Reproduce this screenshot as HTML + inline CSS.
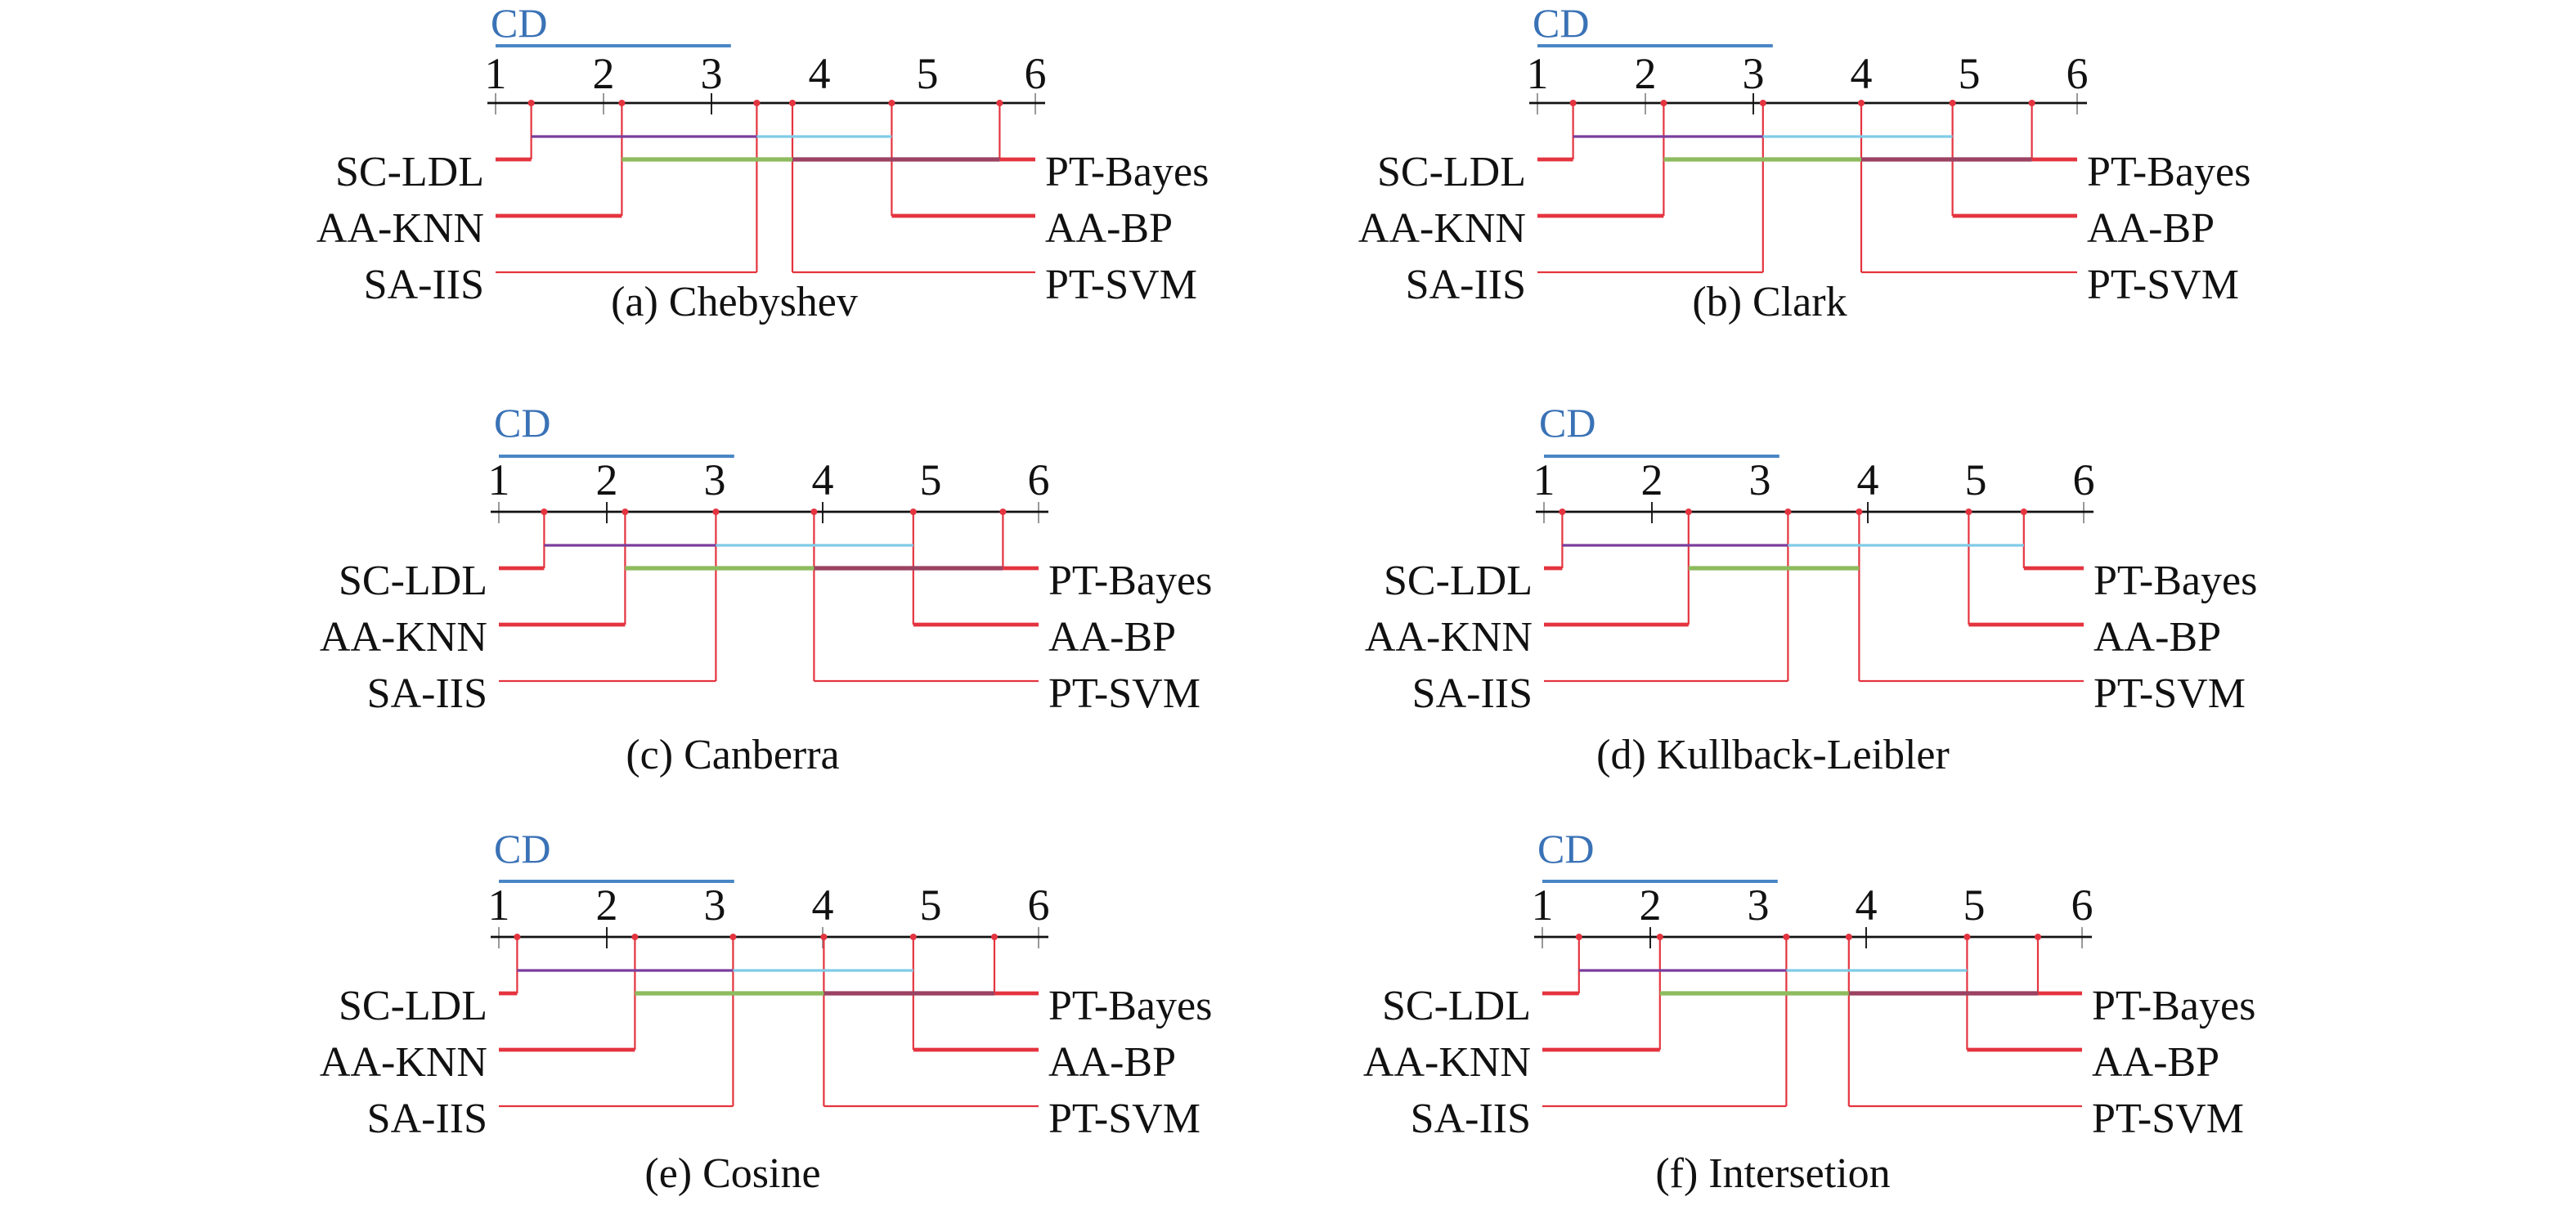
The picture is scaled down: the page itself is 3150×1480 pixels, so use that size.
<!DOCTYPE html>
<html><head><meta charset="utf-8"><style>
html,body{margin:0;padding:0;background:#fff;}
svg{display:block;}
text{font-family:"Liberation Serif",serif;fill:#111;}
.lb{font-size:26px;}
.tk{font-size:27px;text-anchor:middle;}
.cd{font-size:25px;fill:#3a72b6;}
.cap{font-size:26px;text-anchor:middle;}
.ax{stroke:#111;stroke-width:1.4;}
.gt{stroke:#999;stroke-width:1;}
.bt{stroke:#222;stroke-width:1;}
.cdb{stroke:#4a86c5;stroke-width:2;}
.r1{stroke:#e4343f;stroke-width:2.4;fill:none;}
.r3{stroke:#e4343f;stroke-width:1.1;fill:none;}
.v{stroke:#e4343f;stroke-width:1.1;}
.pu{stroke:#7b3d9c;stroke-width:1.6;}
.cy{stroke:#7fcbe6;stroke-width:1.6;}
.gr{stroke:#8dbb5e;stroke-width:2.6;}
.mr{stroke:#9b4262;stroke-width:2.6;}
circle{fill:#e4343f;}
</style></head><body>
<svg width="3150" height="1480" viewBox="0 0 1575 740" xmlns="http://www.w3.org/2000/svg">

<!-- (a) -->
<g transform="translate(303,63)">
<text class="cd" x="-3" y="-40.5">CD</text>
<line class="cdb" x1="0" y1="-35" x2="143.9" y2="-35"/>
<text class="tk" x="0" y="-9">1</text><text class="tk" x="66" y="-9">2</text><text class="tk" x="132" y="-9">3</text><text class="tk" x="198" y="-9">4</text><text class="tk" x="264" y="-9">5</text><text class="tk" x="330" y="-9">6</text>
<line class="gt" x1="0" y1="-6" x2="0" y2="7"/><line class="gt" x1="66" y1="-6" x2="66" y2="7"/><line class="bt" x1="132" y1="-6" x2="132" y2="7"/><line class="gt" x1="330" y1="-6" x2="330" y2="7"/>
<line class="ax" x1="-5" y1="0" x2="336" y2="0"/>
<line class="v" x1="21.8" y1="0" x2="21.8" y2="34.5"/><line class="v" x1="77.2" y1="0" x2="77.2" y2="69"/><line class="v" x1="159.7" y1="0" x2="159.7" y2="103.5"/><line class="v" x1="181.5" y1="0" x2="181.5" y2="103.5"/><line class="v" x1="242.2" y1="0" x2="242.2" y2="69"/><line class="v" x1="308.2" y1="0" x2="308.2" y2="34.5"/>
<line class="r1" x1="0" y1="34.5" x2="21.8" y2="34.5"/><line class="r1" x1="0" y1="69" x2="77.2" y2="69"/><line class="r3" x1="0" y1="103.5" x2="159.7" y2="103.5"/>
<line class="r3" x1="181.5" y1="103.5" x2="330" y2="103.5"/><line class="r1" x1="242.2" y1="69" x2="330" y2="69"/><line class="r1" x1="308.2" y1="34.5" x2="330" y2="34.5"/>
<line class="pu" x1="21.8" y1="20.5" x2="159.7" y2="20.5"/><line class="cy" x1="159.7" y1="20.5" x2="242.2" y2="20.5"/>
<line class="gr" x1="77.2" y1="34.5" x2="181.5" y2="34.5"/><line class="mr" x1="181.5" y1="34.5" x2="308.2" y2="34.5"/>
<circle cx="21.8" cy="0" r="2"/><circle cx="77.2" cy="0" r="2"/><circle cx="159.7" cy="0" r="2"/><circle cx="181.5" cy="0" r="2"/><circle cx="242.2" cy="0" r="2"/><circle cx="308.2" cy="0" r="2"/>
<text class="lb" x="-7" y="50.5" text-anchor="end">SC-LDL</text><text class="lb" x="-7" y="85" text-anchor="end">AA-KNN</text><text class="lb" x="-7" y="119.5" text-anchor="end">SA-IIS</text>
<text class="lb" x="336" y="50.5">PT-Bayes</text><text class="lb" x="336" y="85">AA-BP</text><text class="lb" x="336" y="119.5">PT-SVM</text>
<text class="cap" x="146" y="130">(a) Chebyshev</text>
</g>

<!-- (b) -->
<g transform="translate(940,63)">
<text class="cd" x="-3" y="-40.5">CD</text>
<line class="cdb" x1="0" y1="-35" x2="143.9" y2="-35"/>
<text class="tk" x="0" y="-9">1</text><text class="tk" x="66" y="-9">2</text><text class="tk" x="132" y="-9">3</text><text class="tk" x="198" y="-9">4</text><text class="tk" x="264" y="-9">5</text><text class="tk" x="330" y="-9">6</text>
<line class="gt" x1="0" y1="-6" x2="0" y2="7"/><line class="gt" x1="66" y1="-6" x2="66" y2="7"/><line class="bt" x1="132" y1="-6" x2="132" y2="7"/><line class="gt" x1="330" y1="-6" x2="330" y2="7"/>
<line class="ax" x1="-5" y1="0" x2="336" y2="0"/>
<line class="v" x1="21.8" y1="0" x2="21.8" y2="34.5"/><line class="v" x1="77.2" y1="0" x2="77.2" y2="69"/><line class="v" x1="137.9" y1="0" x2="137.9" y2="103.5"/><line class="v" x1="198" y1="0" x2="198" y2="103.5"/><line class="v" x1="253.8" y1="0" x2="253.8" y2="69"/><line class="v" x1="302.3" y1="0" x2="302.3" y2="34.5"/>
<line class="r1" x1="0" y1="34.5" x2="21.8" y2="34.5"/><line class="r1" x1="0" y1="69" x2="77.2" y2="69"/><line class="r3" x1="0" y1="103.5" x2="137.9" y2="103.5"/>
<line class="r3" x1="198" y1="103.5" x2="330" y2="103.5"/><line class="r1" x1="253.8" y1="69" x2="330" y2="69"/><line class="r1" x1="302.3" y1="34.5" x2="330" y2="34.5"/>
<line class="pu" x1="21.8" y1="20.5" x2="137.9" y2="20.5"/><line class="cy" x1="137.9" y1="20.5" x2="253.8" y2="20.5"/>
<line class="gr" x1="77.2" y1="34.5" x2="198" y2="34.5"/><line class="mr" x1="198" y1="34.5" x2="302.3" y2="34.5"/>
<circle cx="21.8" cy="0" r="2"/><circle cx="77.2" cy="0" r="2"/><circle cx="137.9" cy="0" r="2"/><circle cx="198" cy="0" r="2"/><circle cx="253.8" cy="0" r="2"/><circle cx="302.3" cy="0" r="2"/>
<text class="lb" x="-7" y="50.5" text-anchor="end">SC-LDL</text><text class="lb" x="-7" y="85" text-anchor="end">AA-KNN</text><text class="lb" x="-7" y="119.5" text-anchor="end">SA-IIS</text>
<text class="lb" x="336" y="50.5">PT-Bayes</text><text class="lb" x="336" y="85">AA-BP</text><text class="lb" x="336" y="119.5">PT-SVM</text>
<text class="cap" x="142" y="130">(b) Clark</text>
</g>

<!-- (c) -->
<g transform="translate(305,313)">
<text class="cd" x="-3" y="-46">CD</text>
<line class="cdb" x1="0" y1="-34" x2="143.9" y2="-34"/>
<text class="tk" x="0" y="-10.5">1</text><text class="tk" x="66" y="-10.5">2</text><text class="tk" x="132" y="-10.5">3</text><text class="tk" x="198" y="-10.5">4</text><text class="tk" x="264" y="-10.5">5</text><text class="tk" x="330" y="-10.5">6</text>
<line class="gt" x1="0" y1="-6" x2="0" y2="7"/><line class="bt" x1="66" y1="-6" x2="66" y2="7"/><line class="bt" x1="198" y1="-6" x2="198" y2="7"/><line class="gt" x1="330" y1="-6" x2="330" y2="7"/>
<line class="ax" x1="-5" y1="0" x2="336" y2="0"/>
<line class="v" x1="27.7" y1="0" x2="27.7" y2="34.5"/><line class="v" x1="77.2" y1="0" x2="77.2" y2="69"/><line class="v" x1="132.7" y1="0" x2="132.7" y2="103.5"/><line class="v" x1="192.7" y1="0" x2="192.7" y2="103.5"/><line class="v" x1="253.4" y1="0" x2="253.4" y2="69"/><line class="v" x1="308.2" y1="0" x2="308.2" y2="34.5"/>
<line class="r1" x1="0" y1="34.5" x2="27.7" y2="34.5"/><line class="r1" x1="0" y1="69" x2="77.2" y2="69"/><line class="r3" x1="0" y1="103.5" x2="132.7" y2="103.5"/>
<line class="r3" x1="192.7" y1="103.5" x2="330" y2="103.5"/><line class="r1" x1="253.4" y1="69" x2="330" y2="69"/><line class="r1" x1="308.2" y1="34.5" x2="330" y2="34.5"/>
<line class="pu" x1="27.7" y1="20.5" x2="132.7" y2="20.5"/><line class="cy" x1="132.7" y1="20.5" x2="253.4" y2="20.5"/>
<line class="gr" x1="77.2" y1="34.5" x2="192.7" y2="34.5"/><line class="mr" x1="192.7" y1="34.5" x2="308.2" y2="34.5"/>
<circle cx="27.7" cy="0" r="2"/><circle cx="77.2" cy="0" r="2"/><circle cx="132.7" cy="0" r="2"/><circle cx="192.7" cy="0" r="2"/><circle cx="253.4" cy="0" r="2"/><circle cx="308.2" cy="0" r="2"/>
<text class="lb" x="-7" y="50.5" text-anchor="end">SC-LDL</text><text class="lb" x="-7" y="85" text-anchor="end">AA-KNN</text><text class="lb" x="-7" y="119.5" text-anchor="end">SA-IIS</text>
<text class="lb" x="336" y="50.5">PT-Bayes</text><text class="lb" x="336" y="85">AA-BP</text><text class="lb" x="336" y="119.5">PT-SVM</text>
<text class="cap" x="143" y="157">(c) Canberra</text>
</g>

<!-- (d) -->
<g transform="translate(944,313)">
<text class="cd" x="-3" y="-46">CD</text>
<line class="cdb" x1="0" y1="-34" x2="143.9" y2="-34"/>
<text class="tk" x="0" y="-10.5">1</text><text class="tk" x="66" y="-10.5">2</text><text class="tk" x="132" y="-10.5">3</text><text class="tk" x="198" y="-10.5">4</text><text class="tk" x="264" y="-10.5">5</text><text class="tk" x="330" y="-10.5">6</text>
<line class="gt" x1="0" y1="-6" x2="0" y2="7"/><line class="bt" x1="66" y1="-6" x2="66" y2="7"/><line class="bt" x1="198" y1="-6" x2="198" y2="7"/><line class="gt" x1="330" y1="-6" x2="330" y2="7"/>
<line class="ax" x1="-5" y1="0" x2="336" y2="0"/>
<line class="v" x1="11.2" y1="0" x2="11.2" y2="34.5"/><line class="v" x1="88.4" y1="0" x2="88.4" y2="69"/><line class="v" x1="149.2" y1="0" x2="149.2" y2="103.5"/><line class="v" x1="192.7" y1="0" x2="192.7" y2="103.5"/><line class="v" x1="259.7" y1="0" x2="259.7" y2="69"/><line class="v" x1="293.4" y1="0" x2="293.4" y2="34.5"/>
<line class="r1" x1="0" y1="34.5" x2="11.2" y2="34.5"/><line class="r1" x1="0" y1="69" x2="88.4" y2="69"/><line class="r3" x1="0" y1="103.5" x2="149.2" y2="103.5"/>
<line class="r3" x1="192.7" y1="103.5" x2="330" y2="103.5"/><line class="r1" x1="259.7" y1="69" x2="330" y2="69"/><line class="r1" x1="293.4" y1="34.5" x2="330" y2="34.5"/>
<line class="pu" x1="11.2" y1="20.5" x2="149.2" y2="20.5"/><line class="cy" x1="149.2" y1="20.5" x2="293.4" y2="20.5"/>
<line class="gr" x1="88.4" y1="34.5" x2="192.7" y2="34.5"/>
<circle cx="11.2" cy="0" r="2"/><circle cx="88.4" cy="0" r="2"/><circle cx="149.2" cy="0" r="2"/><circle cx="192.7" cy="0" r="2"/><circle cx="259.7" cy="0" r="2"/><circle cx="293.4" cy="0" r="2"/>
<text class="lb" x="-7" y="50.5" text-anchor="end">SC-LDL</text><text class="lb" x="-7" y="85" text-anchor="end">AA-KNN</text><text class="lb" x="-7" y="119.5" text-anchor="end">SA-IIS</text>
<text class="lb" x="336" y="50.5">PT-Bayes</text><text class="lb" x="336" y="85">AA-BP</text><text class="lb" x="336" y="119.5">PT-SVM</text>
<text class="cap" x="140" y="157">(d) Kullback-Leibler</text>
</g>

<!-- (e) -->
<g transform="translate(305,573)">
<text class="cd" x="-3" y="-45.5">CD</text>
<line class="cdb" x1="0" y1="-34" x2="143.9" y2="-34"/>
<text class="tk" x="0" y="-10.5">1</text><text class="tk" x="66" y="-10.5">2</text><text class="tk" x="132" y="-10.5">3</text><text class="tk" x="198" y="-10.5">4</text><text class="tk" x="264" y="-10.5">5</text><text class="tk" x="330" y="-10.5">6</text>
<line class="gt" x1="0" y1="-6" x2="0" y2="7"/><line class="bt" x1="66" y1="-6" x2="66" y2="7"/><line class="gt" x1="198" y1="-6" x2="198" y2="7"/><line class="gt" x1="330" y1="-6" x2="330" y2="7"/>
<line class="ax" x1="-5" y1="0" x2="336" y2="0"/>
<line class="v" x1="11.2" y1="0" x2="11.2" y2="34.5"/><line class="v" x1="83.2" y1="0" x2="83.2" y2="69"/><line class="v" x1="143.2" y1="0" x2="143.2" y2="103.5"/><line class="v" x1="198.7" y1="0" x2="198.7" y2="103.5"/><line class="v" x1="253.4" y1="0" x2="253.4" y2="69"/><line class="v" x1="303" y1="0" x2="303" y2="34.5"/>
<line class="r1" x1="0" y1="34.5" x2="11.2" y2="34.5"/><line class="r1" x1="0" y1="69" x2="83.2" y2="69"/><line class="r3" x1="0" y1="103.5" x2="143.2" y2="103.5"/>
<line class="r3" x1="198.7" y1="103.5" x2="330" y2="103.5"/><line class="r1" x1="253.4" y1="69" x2="330" y2="69"/><line class="r1" x1="303" y1="34.5" x2="330" y2="34.5"/>
<line class="pu" x1="11.2" y1="20.5" x2="143.2" y2="20.5"/><line class="cy" x1="143.2" y1="20.5" x2="253.4" y2="20.5"/>
<line class="gr" x1="83.2" y1="34.5" x2="198.7" y2="34.5"/><line class="mr" x1="198.7" y1="34.5" x2="303" y2="34.5"/>
<circle cx="11.2" cy="0" r="2"/><circle cx="83.2" cy="0" r="2"/><circle cx="143.2" cy="0" r="2"/><circle cx="198.7" cy="0" r="2"/><circle cx="253.4" cy="0" r="2"/><circle cx="303" cy="0" r="2"/>
<text class="lb" x="-7" y="50.5" text-anchor="end">SC-LDL</text><text class="lb" x="-7" y="85" text-anchor="end">AA-KNN</text><text class="lb" x="-7" y="119.5" text-anchor="end">SA-IIS</text>
<text class="lb" x="336" y="50.5">PT-Bayes</text><text class="lb" x="336" y="85">AA-BP</text><text class="lb" x="336" y="119.5">PT-SVM</text>
<text class="cap" x="143" y="153">(e) Cosine</text>
</g>

<!-- (f) -->
<g transform="translate(943,573)">
<text class="cd" x="-3" y="-45.5">CD</text>
<line class="cdb" x1="0" y1="-34" x2="143.9" y2="-34"/>
<text class="tk" x="0" y="-10.5">1</text><text class="tk" x="66" y="-10.5">2</text><text class="tk" x="132" y="-10.5">3</text><text class="tk" x="198" y="-10.5">4</text><text class="tk" x="264" y="-10.5">5</text><text class="tk" x="330" y="-10.5">6</text>
<line class="gt" x1="0" y1="-6" x2="0" y2="7"/><line class="bt" x1="66" y1="-6" x2="66" y2="7"/><line class="bt" x1="198" y1="-6" x2="198" y2="7"/><line class="gt" x1="330" y1="-6" x2="330" y2="7"/>
<line class="ax" x1="-5" y1="0" x2="336" y2="0"/>
<line class="v" x1="22.4" y1="0" x2="22.4" y2="34.5"/><line class="v" x1="71.9" y1="0" x2="71.9" y2="69"/><line class="v" x1="149.2" y1="0" x2="149.2" y2="103.5"/><line class="v" x1="187.4" y1="0" x2="187.4" y2="103.5"/><line class="v" x1="259.7" y1="0" x2="259.7" y2="69"/><line class="v" x1="303" y1="0" x2="303" y2="34.5"/>
<line class="r1" x1="0" y1="34.5" x2="22.4" y2="34.5"/><line class="r1" x1="0" y1="69" x2="71.9" y2="69"/><line class="r3" x1="0" y1="103.5" x2="149.2" y2="103.5"/>
<line class="r3" x1="187.4" y1="103.5" x2="330" y2="103.5"/><line class="r1" x1="259.7" y1="69" x2="330" y2="69"/><line class="r1" x1="303" y1="34.5" x2="330" y2="34.5"/>
<line class="pu" x1="22.4" y1="20.5" x2="149.2" y2="20.5"/><line class="cy" x1="149.2" y1="20.5" x2="259.7" y2="20.5"/>
<line class="gr" x1="71.9" y1="34.5" x2="187.4" y2="34.5"/><line class="mr" x1="187.4" y1="34.5" x2="303" y2="34.5"/>
<circle cx="22.4" cy="0" r="2"/><circle cx="71.9" cy="0" r="2"/><circle cx="149.2" cy="0" r="2"/><circle cx="187.4" cy="0" r="2"/><circle cx="259.7" cy="0" r="2"/><circle cx="303" cy="0" r="2"/>
<text class="lb" x="-7" y="50.5" text-anchor="end">SC-LDL</text><text class="lb" x="-7" y="85" text-anchor="end">AA-KNN</text><text class="lb" x="-7" y="119.5" text-anchor="end">SA-IIS</text>
<text class="lb" x="336" y="50.5">PT-Bayes</text><text class="lb" x="336" y="85">AA-BP</text><text class="lb" x="336" y="119.5">PT-SVM</text>
<text class="cap" x="141" y="153">(f) Intersetion</text>
</g>
</svg>
</body></html>
